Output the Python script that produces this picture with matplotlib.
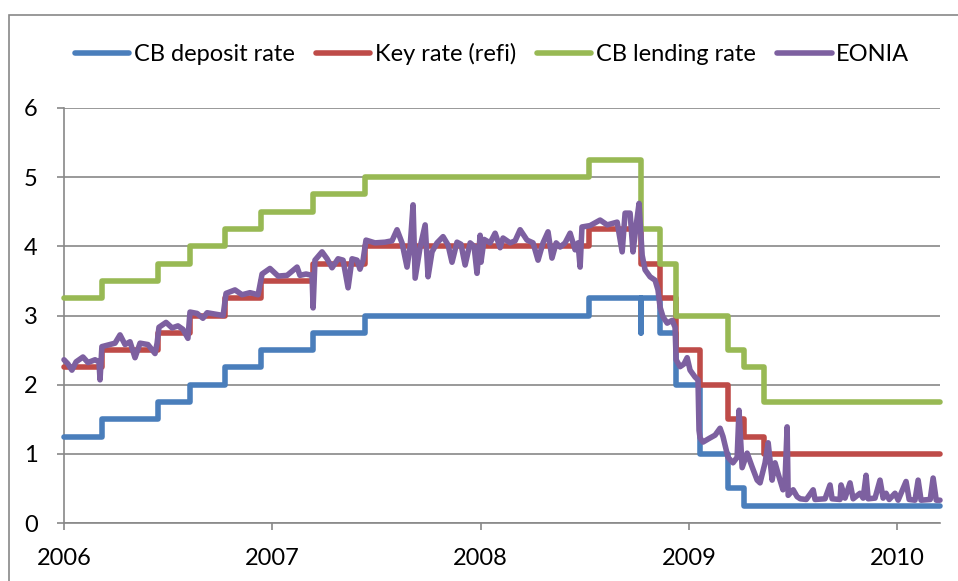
import matplotlib
matplotlib.use('Agg')
import matplotlib.pyplot as plt
from matplotlib.patches import Rectangle
from matplotlib.lines import Line2D

# ---------------- data ----------------
year_ticks = [2006, 2007, 2008, 2009, 2010]
y_ticks = [0, 1, 2, 3, 4, 5, 6]

# policy change dates (decimal years) and rates
policy_dates = [2006.000, 2006.181, 2006.452, 2006.603, 2006.775, 2006.948, 2007.197,
                2007.447, 2008.519, 2008.768, 2008.770, 2008.787, 2008.863, 2008.940,
                2009.055, 2009.189, 2009.266, 2009.362, 2010.206]
deposit = [1.25, 1.50, 1.75, 2.00, 2.25, 2.50, 2.75, 3.00, 3.25, 2.75, 3.25, 3.25,
           2.75, 2.00, 1.00, 0.50, 0.25, 0.25, 0.25]
refi = [2.25, 2.50, 2.75, 3.00, 3.25, 3.50, 3.75, 4.00, 4.25, 3.75, 3.75, 3.75,
        3.25, 2.50, 2.00, 1.50, 1.25, 1.00, 1.00]
lending = [3.25, 3.50, 3.75, 4.00, 4.25, 4.50, 4.75, 5.00, 5.25, 4.75, 4.25, 4.25,
           3.75, 3.00, 3.00, 2.50, 2.25, 1.75, 1.75]

eonia_t = [2006.000, 2006.019, 2006.038, 2006.058, 2006.091, 2006.115, 2006.149, 2006.168,
           2006.173, 2006.182, 2006.221, 2006.245, 2006.269, 2006.293, 2006.317, 2006.341,
           2006.365, 2006.403, 2006.437, 2006.447, 2006.456, 2006.490, 2006.519, 2006.547,
           2006.571, 2006.595, 2006.605, 2006.639, 2006.667, 2006.687, 2006.725, 2006.764,
           2006.778, 2006.821, 2006.855, 2006.893, 2006.932, 2006.951, 2006.989, 2007.028,
           2007.071, 2007.119, 2007.133, 2007.162, 2007.191, 2007.196, 2007.205, 2007.239,
           2007.263, 2007.287, 2007.316, 2007.340, 2007.364, 2007.383, 2007.407, 2007.421,
           2007.436, 2007.450, 2007.493, 2007.541, 2007.575, 2007.599, 2007.623, 2007.647,
           2007.662, 2007.676, 2007.686, 2007.700, 2007.710, 2007.734, 2007.748, 2007.767,
           2007.791, 2007.820, 2007.844, 2007.863, 2007.887, 2007.906, 2007.926, 2007.950,
           2007.969, 2007.983, 2007.998, 2008.002, 2008.017, 2008.046, 2008.070, 2008.094,
           2008.108, 2008.142, 2008.166, 2008.190, 2008.223, 2008.252, 2008.276, 2008.300,
           2008.324, 2008.343, 2008.363, 2008.382, 2008.406, 2008.430, 2008.454, 2008.468,
           2008.478, 2008.487, 2008.526, 2008.574, 2008.608, 2008.632, 2008.656, 2008.680,
           2008.694, 2008.718, 2008.732, 2008.747, 2008.761, 2008.776, 2008.790, 2008.814,
           2008.838, 2008.852, 2008.862, 2008.876, 2008.896, 2008.920, 2008.934, 2008.939,
           2008.958, 2008.977, 2008.992, 2009.006, 2009.030, 2009.044, 2009.049, 2009.054,
           2009.068, 2009.102, 2009.126, 2009.150, 2009.164, 2009.188, 2009.212, 2009.232,
           2009.241, 2009.256, 2009.280, 2009.304, 2009.328, 2009.342, 2009.366, 2009.381,
           2009.400, 2009.414, 2009.428, 2009.452, 2009.462, 2009.472, 2009.477, 2009.501,
           2009.520, 2009.535, 2009.564, 2009.597, 2009.606, 2009.654, 2009.678, 2009.688,
           2009.726, 2009.731, 2009.750, 2009.774, 2009.789, 2009.822, 2009.837, 2009.851,
           2009.861, 2009.894, 2009.918, 2009.933, 2009.947, 2009.962, 2009.990, 2010.005,
           2010.043, 2010.058, 2010.086, 2010.101, 2010.115, 2010.159, 2010.173, 2010.188,
           2010.206]
eonia_v = [2.36, 2.30, 2.21, 2.33, 2.40, 2.32, 2.36, 2.33,
           2.07, 2.55, 2.58, 2.60, 2.72, 2.58, 2.62, 2.39,
           2.60, 2.58, 2.45, 2.60, 2.83, 2.90, 2.82, 2.85,
           2.80, 2.67, 3.05, 3.03, 2.96, 3.04, 3.02, 3.00,
           3.32, 3.37, 3.30, 3.33, 3.30, 3.60, 3.68, 3.57,
           3.58, 3.70, 3.58, 3.60, 3.58, 3.11, 3.80, 3.92,
           3.82, 3.69, 3.82, 3.80, 3.40, 3.82, 3.80, 3.67,
           3.80, 4.09, 4.05, 4.06, 4.08, 4.24, 4.05, 3.70,
           4.00, 4.60, 3.54, 3.80, 3.99, 4.31, 3.56, 3.92,
           4.05, 4.14, 4.02, 3.77, 4.06, 4.03, 3.73, 4.05,
           4.00, 3.61, 4.16, 3.77, 4.10, 4.05, 4.19, 3.98,
           4.12, 4.05, 4.08, 4.24, 4.09, 4.05, 3.80, 4.05,
           4.21, 3.83, 4.05, 3.99, 4.05, 4.19, 3.95, 4.05,
           3.70, 4.28, 4.30, 4.38, 4.31, 4.33, 4.35, 3.92,
           4.48, 4.48, 3.92, 4.30, 4.62, 3.87, 3.66, 3.56,
           3.51, 3.37, 3.12, 2.98, 2.89, 2.93, 2.83, 2.36,
           2.26, 2.30, 2.39, 2.21, 2.11, 2.07, 1.34, 1.23,
           1.17, 1.23, 1.27, 1.37, 1.25, 0.95, 0.87, 0.95,
           1.63, 0.80, 1.01, 0.81, 0.62, 0.58, 0.87, 1.16,
           0.62, 0.87, 0.72, 0.48, 0.62, 1.39, 0.40, 0.48,
           0.38, 0.35, 0.34, 0.48, 0.34, 0.35, 0.55, 0.35,
           0.34, 0.55, 0.36, 0.58, 0.35, 0.43, 0.36, 0.69,
           0.35, 0.36, 0.62, 0.36, 0.43, 0.34, 0.43, 0.33,
           0.60, 0.34, 0.33, 0.62, 0.33, 0.34, 0.65, 0.33,
           0.33]

series_labels = ['CB deposit rate', 'Key rate (refi)', 'CB lending rate', 'EONIA']
colors = ['#4A7EBB', '#BE4B48', '#98B954', '#7D60A0']

# ---------------- figure ----------------
W, H = 958, 581
fig = plt.figure(figsize=(W / 100, H / 100), dpi=100)
plt.rcParams['font.family'] = ['Lato', 'DejaVu Sans']
FS = 17
GRID = '#888888'

ax = fig.add_axes([64 / W, 58 / H, 876 / W, 415 / H])
ax.set_xlim(2006, 2010.206)
ax.set_ylim(0, 6)

lw = 4.0
kw = dict(lw=lw, solid_capstyle='round', solid_joinstyle='round', clip_on=False)
ax.plot(policy_dates, deposit, drawstyle='steps-post', color=colors[0], zorder=3, **kw)
ax.plot(policy_dates, refi, drawstyle='steps-post', color=colors[1], zorder=4, **kw)
ax.plot(policy_dates, lending, drawstyle='steps-post', color=colors[2], zorder=5, **kw)
ax.plot(eonia_t, eonia_v, color=colors[3], zorder=6, **kw)

ax.set_yticks(y_ticks)
ax.set_xticks(year_ticks)
ax.set_xticklabels([str(y) for y in year_ticks])
ax.yaxis.grid(True, color=GRID, lw=1.2)
ax.set_axisbelow(True)
for s in ['top', 'right']:
    ax.spines[s].set_visible(False)
for s in ['left', 'bottom']:
    ax.spines[s].set_color(GRID)
    ax.spines[s].set_linewidth(1.2)
ax.tick_params(axis='y', direction='out', length=5, width=1.2, color=GRID,
               labelsize=FS, pad=14)
ax.tick_params(axis='x', direction='out', length=5, width=1.2, color=GRID,
               labelsize=FS, pad=13)

# chart area border
fig.patches.append(Rectangle((9 / W, -0.1), 1.2, (H - 15) / H + 0.1,
                             transform=fig.transFigure, fill=False,
                             edgecolor=GRID, lw=1.2, zorder=0))

handles = [Line2D([0], [0], color=c, lw=lw, solid_capstyle='round') for c in colors]
fig.legend(handles, series_labels, loc='center', bbox_to_anchor=(492 / W, 1 - 54 / H),
           ncol=4, frameon=False, handlelength=2.3, handletextpad=0.2,
           columnspacing=0.9, fontsize=FS, borderpad=0)

fig.savefig('out.png', dpi=100)
